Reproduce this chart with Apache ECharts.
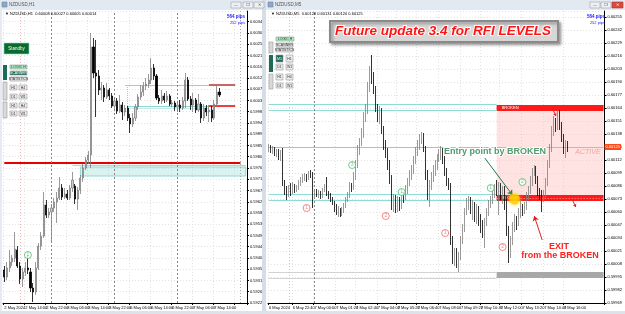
<!DOCTYPE html>
<html><head><meta charset="utf-8">
<script src="https://cdn.jsdelivr.net/npm/echarts/dist/echarts.min.js"></script>
<style>html,body{margin:0;padding:0;background:#fff}#c{width:625px;height:314px}</style>
</head><body><div id="c"></div><script>
const FONT = 'Liberation Sans, Arial, sans-serif';

// ---------- LEFT CHART (NZDUSD,H1) ----------
const leftSlotCount = 93;
const leftTimeLabels = ['2 May 2024','2 May 14:00','2 May 22:00','3 May 06:00','3 May 14:00','3 May 22:00','6 May 06:00','6 May 14:00','6 May 22:00','7 May 06:00','7 May 14:00'];
const leftDaySeparators = [18, 42, 66];
// [open, close, low, high]
const leftCandles = [
[0.59352,0.59324,0.59304,0.59368],[0.59324,0.59360,0.59312,0.59384],[0.59360,0.59384,0.59344,0.59432],[0.59384,0.59400,0.59368,0.59412],
[0.59400,0.59436,0.59384,0.59504],[0.59432,0.59368,0.59360,0.59448],[0.59368,0.59316,0.59296,0.59384],[0.59316,0.59344,0.59284,0.59360],
[0.59344,0.59360,0.59328,0.59384],[0.59360,0.59352,0.59336,0.59412],[0.59344,0.59280,0.59264,0.59360],[0.59280,0.59264,0.59224,0.59300],
[0.59264,0.59360,0.59252,0.59384],[0.59360,0.59448,0.59352,0.59460],[0.59448,0.59488,0.59432,0.59504],[0.59488,0.59612,0.59480,0.59664],
[0.59612,0.59572,0.59560,0.59632],[0.59572,0.59584,0.59560,0.59600],[0.59584,0.59600,0.59460,0.59616],[0.59600,0.59624,0.59584,0.59640],
[0.59624,0.59640,0.59540,0.59664],[0.59640,0.59680,0.59632,0.59724],[0.59680,0.59644,0.59632,0.59696],[0.59644,0.59656,0.59636,0.59680],
[0.59656,0.59640,0.59632,0.59672],[0.59640,0.59680,0.59632,0.59692],[0.59680,0.59712,0.59664,0.59744],[0.59688,0.59636,0.59616,0.59696],
[0.59636,0.59672,0.59592,0.59684],[0.59672,0.59720,0.59656,0.59732],[0.59720,0.59760,0.59704,0.59776],[0.59760,0.59792,0.59752,0.59804],
[0.59792,0.59812,0.59776,0.59828],[0.59812,0.60244,0.59760,0.60300],[0.60244,0.60140,0.60120,0.60280],[0.60140,0.60128,0.59964,0.60272],
[0.60128,0.60072,0.60052,0.60152],[0.60072,0.60080,0.60032,0.60104],[0.60080,0.60044,0.60024,0.60092],[0.60044,0.60072,0.60036,0.60100],
[0.60072,0.60048,0.60032,0.60080],[0.60048,0.60008,0.60000,0.60060],[0.60008,0.60028,0.59992,0.60036],[0.60028,0.59988,0.59976,0.60040],
[0.59988,0.60012,0.59980,0.60052],[0.60012,0.59984,0.59952,0.60024],[0.59984,0.60000,0.59968,0.60012],[0.60000,0.59960,0.59948,0.60008],
[0.59960,0.59936,0.59900,0.59976],[0.59936,0.59960,0.59924,0.59980],[0.59960,0.60004,0.59948,0.60016],[0.60004,0.60044,0.59992,0.60056],
[0.60044,0.60064,0.60032,0.60092],[0.60064,0.60088,0.60048,0.60104],[0.60088,0.60096,0.60072,0.60120],[0.60096,0.60112,0.60080,0.60136],
[0.60112,0.60160,0.60096,0.60200],[0.60160,0.60128,0.60112,0.60176],[0.60128,0.60040,0.60032,0.60136],[0.60040,0.60028,0.60016,0.60052],
[0.60028,0.60048,0.60016,0.60072],[0.60048,0.60032,0.60020,0.60060],[0.60032,0.60048,0.60024,0.60068],[0.60048,0.60016,0.60008,0.60056],
[0.60016,0.60020,0.60004,0.60032],[0.60020,0.60004,0.59988,0.60028],[0.60004,0.60012,0.59984,0.60024],[0.60012,0.60000,0.59984,0.60032],
[0.60000,0.60028,0.59992,0.60044],[0.60028,0.60112,0.60000,0.60140],[0.60112,0.60036,0.60028,0.60124],[0.60036,0.60012,0.59992,0.60048],
[0.60012,0.60032,0.59984,0.60060],[0.60032,0.59992,0.59980,0.60040],[0.59992,0.60016,0.59984,0.60056],[0.60016,0.59960,0.59940,0.60024],
[0.59960,0.60000,0.59948,0.60016],[0.60000,0.59984,0.59968,0.60012],[0.59984,0.59992,0.59944,0.60012],[0.59992,0.59960,0.59944,0.60008],
[0.59960,0.60016,0.59952,0.60032],[0.60016,0.60064,0.60008,0.60088],[0.60064,0.60052,0.60044,0.60080]
];
const leftRedLevel = 0.59780;
const leftZone = [0.59764, 0.59728];       // filled cyan zone
const leftZoneTop = 0.59772;
const leftRangeTop = 0.60092, leftRangeBottom = 0.60008, leftRangeBottom2 = 0.60000;
const leftBid = 0.60052;
const leftMarkerSlots = [9], leftMarkerPrices = [0.59412], leftMarkerNums = [1], leftMarkerKinds = ['buy'];

// ---------- RIGHT CHART (NZDUSD,M5) ----------
const rightSlotCount = 170;
const rightLabelSlots = [0,12,23,34,44,55,65,75,86,97,107,117,128,139,149];
const rightTimeLabels = ['6 May 2024','6 May 22:40','7 May 00:00','7 May 01:20','7 May 02:40','7 May 04:00','7 May 05:20','7 May 06:40','7 May 08:00','7 May 09:20','7 May 10:40','7 May 12:00','7 May 13:20','7 May 14:40','7 May 16:00'];
const rightDaySeparators = [23];
const rightCandles = [
[0.60122,0.60125,0.60120,0.60128],[0.60125,0.60122,0.60119,0.60127],[0.60122,0.60123,0.60118,0.60126],[0.60123,0.60119,0.60116,0.60125],
[0.60119,0.60121,0.60115,0.60123],[0.60121,0.60116,0.60112,0.60123],[0.60116,0.60120,0.60111,0.60122],[0.60122,0.60089,0.60086,0.60124],
[0.60089,0.60082,0.60077,0.60092],[0.60082,0.60078,0.60072,0.60086],[0.60078,0.60084,0.60075,0.60087],[0.60084,0.60080,0.60076,0.60089],
[0.60080,0.60086,0.60078,0.60090],[0.60086,0.60082,0.60079,0.60088],[0.60082,0.60084,0.60080,0.60087],[0.60084,0.60088,0.60082,0.60092],
[0.60088,0.60092,0.60086,0.60095],[0.60092,0.60094,0.60089,0.60098],[0.60094,0.60096,0.60091,0.60099],[0.60096,0.60094,0.60090,0.60098],
[0.60094,0.60098,0.60092,0.60101],[0.60098,0.60097,0.60094,0.60102],[0.60097,0.60076,0.60064,0.60100],[0.60076,0.60080,0.60074,0.60082],
[0.60080,0.60077,0.60075,0.60083],[0.60077,0.60079,0.60074,0.60082],[0.60079,0.60076,0.60073,0.60081],[0.60076,0.60082,0.60074,0.60084],
[0.60082,0.60086,0.60080,0.60088],[0.60086,0.60078,0.60076,0.60095],[0.60078,0.60077,0.60073,0.60081],[0.60077,0.60073,0.60070,0.60079],
[0.60073,0.60069,0.60067,0.60075],[0.60069,0.60064,0.60060,0.60071],[0.60064,0.60060,0.60057,0.60068],[0.60060,0.60062,0.60055,0.60066],
[0.60062,0.60058,0.60055,0.60064],[0.60058,0.60062,0.60056,0.60065],[0.60062,0.60066,0.60059,0.60069],[0.60066,0.60072,0.60064,0.60075],
[0.60072,0.60076,0.60070,0.60080],[0.60076,0.60086,0.60074,0.60090],[0.60086,0.60084,0.60080,0.60089],[0.60084,0.60094,0.60082,0.60100],
[0.60094,0.60107,0.60092,0.60112],[0.60107,0.60122,0.60104,0.60127],[0.60122,0.60130,0.60117,0.60134],[0.60130,0.60137,0.60126,0.60144],
[0.60137,0.60154,0.60134,0.60160],[0.60154,0.60162,0.60150,0.60168],[0.60162,0.60184,0.60158,0.60190],[0.60184,0.60197,0.60180,0.60206],
[0.60197,0.60192,0.60188,0.60217],[0.60192,0.60182,0.60178,0.60200],[0.60182,0.60164,0.60160,0.60186],[0.60164,0.60154,0.60150,0.60168],
[0.60154,0.60160,0.60148,0.60166],[0.60160,0.60142,0.60138,0.60164],[0.60142,0.60127,0.60122,0.60146],[0.60127,0.60120,0.60114,0.60132],
[0.60120,0.60107,0.60102,0.60124],[0.60107,0.60094,0.60088,0.60112],[0.60094,0.60067,0.60062,0.60097],[0.60067,0.60074,0.60060,0.60078],
[0.60074,0.60064,0.60059,0.60077],[0.60064,0.60072,0.60060,0.60076],[0.60072,0.60066,0.60061,0.60075],[0.60066,0.60076,0.60063,0.60080],
[0.60076,0.60074,0.60069,0.60080],[0.60074,0.60082,0.60072,0.60087],[0.60082,0.60090,0.60078,0.60094],[0.60090,0.60096,0.60086,0.60102],
[0.60096,0.60102,0.60092,0.60107],[0.60102,0.60112,0.60098,0.60116],[0.60112,0.60120,0.60108,0.60125],[0.60120,0.60126,0.60116,0.60132],
[0.60126,0.60132,0.60122,0.60138],[0.60132,0.60136,0.60128,0.60140],[0.60136,0.60122,0.60120,0.60139],[0.60122,0.60097,0.60092,0.60126],
[0.60097,0.60080,0.60072,0.60102],[0.60080,0.60087,0.60065,0.60092],[0.60087,0.60094,0.60082,0.60100],[0.60094,0.60102,0.60090,0.60107],
[0.60102,0.60106,0.60096,0.60112],[0.60106,0.60114,0.60102,0.60118],[0.60114,0.60118,0.60110,0.60123],[0.60118,0.60122,0.60112,0.60126],
[0.60122,0.60112,0.60108,0.60124],[0.60112,0.60100,0.60096,0.60116],[0.60100,0.60090,0.60086,0.60104],[0.60090,0.60086,0.60082,0.60094],
[0.60086,0.60032,0.60027,0.60089],[0.60032,0.60014,0.60008,0.60036],[0.60014,0.60020,0.60006,0.60024],[0.60020,0.60010,0.60004,0.60024],
[0.60010,0.60016,0.60000,0.60020],[0.60016,0.60032,0.60012,0.60036],[0.60032,0.60044,0.60028,0.60048],[0.60044,0.60060,0.60040,0.60064],
[0.60060,0.60068,0.60057,0.60074],[0.60068,0.60072,0.60062,0.60076],[0.60072,0.60062,0.60058,0.60075],[0.60062,0.60067,0.60052,0.60072],
[0.60067,0.60057,0.60050,0.60070],[0.60057,0.60064,0.60048,0.60068],[0.60064,0.60054,0.60046,0.60066],[0.60054,0.60047,0.60039,0.60058],
[0.60047,0.60040,0.60034,0.60052],[0.60040,0.60050,0.60024,0.60054],[0.60050,0.60060,0.60046,0.60064],[0.60060,0.60067,0.60056,0.60072],
[0.60067,0.60072,0.60064,0.60076],[0.60072,0.60078,0.60068,0.60082],[0.60078,0.60084,0.60074,0.60088],[0.60084,0.60080,0.60076,0.60092],
[0.60080,0.60086,0.60057,0.60090],[0.60086,0.60076,0.60072,0.60089],[0.60076,0.60082,0.60068,0.60086],[0.60082,0.60072,0.60062,0.60086],
[0.60072,0.60042,0.60036,0.60076],[0.60042,0.60020,0.60009,0.60046],[0.60020,0.60032,0.60014,0.60036],[0.60032,0.60044,0.60027,0.60050],
[0.60044,0.60052,0.60040,0.60058],[0.60052,0.60048,0.60042,0.60056],[0.60048,0.60058,0.60046,0.60064],[0.60058,0.60064,0.60054,0.60072],
[0.60064,0.60060,0.60056,0.60068],[0.60060,0.60066,0.60058,0.60070],[0.60066,0.60076,0.60062,0.60080],[0.60076,0.60082,0.60072,0.60086],
[0.60082,0.60090,0.60078,0.60096],[0.60090,0.60100,0.60086,0.60104],[0.60100,0.60104,0.60096,0.60107],[0.60104,0.60092,0.60088,0.60106],
[0.60092,0.60080,0.60076,0.60096],[0.60080,0.60076,0.60072,0.60084],[0.60076,0.60074,0.60060,0.60082],[0.60074,0.60078,0.60070,0.60082],
[0.60078,0.60090,0.60074,0.60094],[0.60090,0.60108,0.60086,0.60112],[0.60108,0.60124,0.60104,0.60128],[0.60124,0.60140,0.60120,0.60146],
[0.60140,0.60150,0.60136,0.60156],[0.60150,0.60144,0.60140,0.60154],[0.60144,0.60154,0.60142,0.60162],[0.60154,0.60146,0.60142,0.60162],
[0.60146,0.60134,0.60130,0.60150],[0.60134,0.60122,0.60118,0.60138],[0.60122,0.60128,0.60114,0.60132],[0.60128,0.60125,0.60120,0.60131]
];
const rightUpperCyan = [0.60168, 0.60162];
const rightLowerCyan = [0.60078, 0.60072];
const rightZoneStartSlot = 115;
const rightActiveZone = [0.60167, 0.60072];
const rightTopBand = [0.60167, 0.60161];
const rightBottomBand = [0.60077, 0.60071];
const rightGreyBand = [0.60000, 0.59994];
const rightBid = 0.60125;
const rightMarkerSlots  = [19, 42, 59, 67, 89, 112, 118, 128];
const rightMarkerPrices = [0.60064, 0.60107, 0.60056, 0.60080, 0.60039, 0.60084, 0.60025, 0.60090];
const rightMarkerNums   = [1, 3, 2, 1, 1, 1, 2, 2];
const rightMarkerKinds  = ['sell','buy','sell','buy','sell','buy','sell','buy'];
const entrySlot = 124, entryPrice = 0.60073;
const entryArrow = [[109, 0.60114], [123, 0.60077]];
const exitArrow = [[138, 0.60032], [134, 0.60056]];
const smallArrows = [[[143, 0.60164], [145, 0.60156]], [[153, 0.60073], [155, 0.60065]]];

// ---------- helpers ----------
const fmt = v => v.toFixed(5);
const GRID_LINE = {color: '#e2e2e2', type: [1, 2], width: 1};
const kindColor = k => k === 'buy' ? '#4fbf6f' : '#f06a6a';

function seg(x1, y1, x2, y2, style, label) {
  return [{coord: [x1, y1], lineStyle: style, label: label || {show: false}}, {coord: [x2, y2]}];
}
function band(x1, y1, x2, y2, style, label) {
  return [{xAxis: x1, yAxis: y1, itemStyle: style, label: label || {show: false}}, {xAxis: x2, yAxis: y2}];
}
function markerData(slots, prices, nums, kinds) {
  return slots.map((s, i) => ({
    value: [s, prices[i]],
    itemStyle: {color: '#fff', borderColor: kindColor(kinds[i]), borderWidth: 1},
    label: {show: true, position: 'inside', formatter: String(nums[i]), color: kindColor(kinds[i]), fontSize: 5, fontFamily: FONT}
  }));
}
function xAxisCfg(gi, count, isTick, labelFor) {
  return {
    gridIndex: gi, type: 'category', boundaryGap: true,
    data: Array.from({length: count}, (_, i) => String(i)),
    axisLine: {show: true, lineStyle: {color: '#000', width: 1}},
    axisTick: {show: true, length: 2, interval: (i) => isTick(i), lineStyle: {color: '#000'}},
    axisLabel: {interval: 0, fontSize: 4, color: '#000', fontFamily: FONT, align: 'left', margin: 3,
      formatter: (v, i) => labelFor(i)},
    splitLine: {show: true, interval: (i) => isTick(i), lineStyle: GRID_LINE}
  };
}
function yAxisCfg(gi, min, max, interval) {
  return {
    gridIndex: gi, type: 'value', position: 'right', min, max, interval,
    axisLine: {show: true, lineStyle: {color: '#000', width: 1}},
    axisTick: {show: true, length: 2, lineStyle: {color: '#000'}},
    axisLabel: {fontSize: 4, color: '#000', fontFamily: FONT, margin: 3, formatter: fmt, showMaxLabel: false},
    splitLine: {show: true, lineStyle: GRID_LINE}
  };
}
const candleStyle = {color: '#d0d0d0', color0: '#000000', borderColor: '#808080', borderColor0: '#000000', borderWidth: 0.8};
const priceTag = (txt, bg) => ({show: true, position: 'end', formatter: txt, distance: 1,
  backgroundColor: bg, color: '#fff', fontSize: 4, padding: [1, 1], fontFamily: FONT});

// ---------- graphic decoration ----------
function rectEl(x, y, w, h, fill, stroke, z) {
  return {type: 'rect', shape: {x, y, width: w, height: h}, style: {fill, stroke: stroke || null, lineWidth: stroke ? 0.6 : 0}, z: z || 100, silent: true};
}
function textEl(x, y, text, size, fill, extra) {
  return {type: 'text', x, y, z: 101, silent: true,
    style: Object.assign({text, fontSize: size, fill, fontFamily: FONT, align: 'left', verticalAlign: 'middle'}, extra || {})};
}
function btn(x, y, w, h, t, fill, color, stroke) {
  return [rectEl(x, y, w, h, fill, stroke || '#9a9a9a'), textEl(x + w / 2, y + h / 2 + 0.3, t, 3.5, color, {align: 'center'})];
}
const G = [];
G.push(rectEl(0, 0, 625, 10, '#e3e9f0', null, 90));
G.push(rectEl(262, 0, 4, 314, '#d6dde6', null, 90));
G.push(rectEl(0, 311, 625, 3, '#dde3ea', null, 90));
G.push(rectEl(0, 10, 2, 301, '#e6ebf1', null, 90));
G.push(rectEl(2, 2, 5, 5, '#8fa8c8', '#6a86aa'));
G.push(textEl(9, 5, 'NZDUSD,H1', 4.5, '#555'));
G.push(rectEl(268, 2, 5, 5, '#8fa8c8', '#6a86aa'));
G.push(textEl(275, 5, 'NZDUSD,M5', 4.5, '#555'));
[[231, 2], [243, 2], [254, 2], [590, 2], [601, 2]].forEach(p => G.push(rectEl(p[0], p[1], 10, 6, '#eef1f4', '#9aa3ad')));
G.push(rectEl(612, 2, 11, 6, '#d84a3e', '#a33'));
G.push(textEl(236, 5, '—', 4, '#444', {align: 'center'}), textEl(248, 5, '❐', 4, '#444', {align: 'center'}), textEl(259, 5, '✕', 4, '#444', {align: 'center'}));
G.push(textEl(595, 5, '—', 4, '#444', {align: 'center'}), textEl(606, 5, '❐', 4, '#444', {align: 'center'}), textEl(617.5, 5, '✕', 4, '#fff', {align: 'center'}));
G.push(textEl(5, 13.5, '▼ NZDUSD,H1  0.60008 0.60027 0.60005 0.60014', 4, '#000'));
G.push(textEl(271, 13.5, '▼ NZDUSD,M5  0.60128 0.60131 0.60120 0.60125', 4, '#000'));
G.push(textEl(245, 17, '564 pips', 4.5, '#1a1aff', {align: 'right', fontWeight: 'bold'}));
G.push(textEl(245, 23, '252 pips', 4, '#1a1aff', {align: 'right'}));
G.push(textEl(605, 17, '564 pips', 4.5, '#1a1aff', {align: 'right', fontWeight: 'bold'}));
G.push(textEl(605, 23, '252 pips', 4, '#1a1aff', {align: 'right'}));
G.push(rectEl(4, 43, 25, 11, '#0b6b2c', '#86dccc'));
G.push(textEl(16.5, 48.5, 'Standby', 4.5, '#fff', {align: 'center'}));
G.push(rectEl(3, 65, 4, 15, '#1d6b57'), rectEl(3, 82, 4, 18, '#d9d9d9', '#9a9a9a'), rectEl(3, 102, 4, 16, '#d9d9d9', '#9a9a9a'));
G.push(...btn(10, 65, 17, 4, 'LOGIC H', '#a9e8bd', '#1d5a3a'));
G.push(...btn(10, 71, 17, 4, 'SCANNER', '#1d6b57', '#fff'));
G.push(...btn(10, 77, 17, 4, 'STATISTICS', '#e6e6e6', '#333'));
[[85, 'H1', 'H4'], [94, 'D1', 'W1'], [103, 'H1', 'H4'], [111, 'D1', 'W1']].forEach(r => {
  G.push(...btn(10, r[0], 7, 5, r[1], '#ececec', '#333'), ...btn(19, r[0], 8, 5, r[2], '#ececec', '#333'));
});
G.push(rectEl(269, 42, 4, 11, '#d9d9d9', '#9a9a9a'), rectEl(269, 55, 4, 17, '#1d6b57'), rectEl(269, 74, 4, 15, '#d9d9d9', '#9a9a9a'));
G.push(...btn(276, 37, 18, 4, 'LOGIC H', '#a9e8bd', '#1d5a3a'));
G.push(...btn(276, 43, 17, 4, 'SCANNER', '#e6e6e6', '#333'));
G.push(...btn(276, 48, 17, 4, 'STATISTICS', '#e6e6e6', '#333'));
G.push(...btn(276, 55, 7, 7, 'M1', '#1d6b57', '#fff'), ...btn(286, 55, 7, 7, 'H1', '#ececec', '#333'));
G.push(...btn(276, 64, 7, 6, 'D1', '#ececec', '#333'), ...btn(286, 64, 7, 6, 'W1', '#ececec', '#333'));
G.push(...btn(276, 74, 7, 6, 'H1', '#ececec', '#333'), ...btn(286, 74, 7, 6, 'H4', '#ececec', '#333'));
G.push(...btn(276, 83, 7, 5, 'D1', '#ececec', '#333'), ...btn(286, 83, 7, 5, 'W1', '#ececec', '#333'));
G.push({type: 'rect', shape: {x: 330, y: 21, width: 228, height: 21}, z: 100, silent: true,
  style: {fill: '#d7d7d7', stroke: '#8a8a8a', lineWidth: 2, shadowBlur: 3, shadowColor: 'rgba(0,0,0,0.35)', shadowOffsetX: 2, shadowOffsetY: 2}});
G.push(textEl(443, 31.5, 'Future update 3.4 for RFI LEVELS', 13.5, '#ff1414',
  {align: 'center', fontStyle: 'italic', fontWeight: 'bold', stroke: '#ffffff', lineWidth: 2}));
G.push(textEl(495, 151.5, 'Entry point by BROKEN', 9, '#4e9c6c',
  {align: 'center', fontWeight: 'bold', stroke: '#ffffff', lineWidth: 2, shadowBlur: 2, shadowColor: 'rgba(0,0,0,0.4)', shadowOffsetX: 1, shadowOffsetY: 1}));
G.push(textEl(559, 247, 'EXIT', 9, '#ff2020', {align: 'center', fontWeight: 'bold', stroke: '#ffffff', lineWidth: 2}));
G.push(textEl(560, 256, 'from the BROKEN', 9, '#ff2020', {align: 'center', fontWeight: 'bold', stroke: '#ffffff', lineWidth: 2}));
G.push(textEl(588, 152.5, 'ACTIVE', 7, '#f3a3a3', {align: 'center', fontStyle: 'italic'}));

// ---------- option ----------
const chart = echarts.init(document.getElementById('c'), null, {renderer: 'canvas', devicePixelRatio: 1});
const option = {
  backgroundColor: '#ffffff',
  animation: false,
  grid: [
    {left: 3, top: 11, width: 244, height: 292},
    {left: 268, top: 11, width: 339, height: 292}
  ],
  xAxis: [
    xAxisCfg(0, leftSlotCount, i => i % 8 === 0, i => (i % 8 === 0 && leftTimeLabels[i / 8]) || ''),
    xAxisCfg(1, rightSlotCount, i => rightLabelSlots.indexOf(i) >= 0, i => { const k = rightLabelSlots.indexOf(i); return k >= 0 ? rightTimeLabels[k] : ''; })
  ],
  yAxis: [
    yAxisCfg(0, 0.59220, 0.60388, 0.00045),
    yAxisCfg(1, 0.59969, 0.60261, 0.00013)
  ],
  graphic: G,
  series: [
    {
      type: 'candlestick', xAxisIndex: 0, yAxisIndex: 0, data: leftCandles,
      barWidth: 1.6, itemStyle: candleStyle, z: 3,
      markArea: {silent: true, z: 1, data: [
        band(29, leftZone[0], 92, leftZone[1], {color: 'rgba(150,220,214,0.35)', borderColor: '#8fd8d0', borderWidth: 1})
      ]},
      markLine: {silent: true, symbol: ['none', 'none'], label: {show: false}, z: 2, data: [
        seg(0, leftRedLevel, 90, leftRedLevel, {color: '#e60000', width: 2, type: 'solid'}),
        seg(26, leftZoneTop, 92, leftZoneTop, {color: '#9fdcd6', width: 1, type: 'solid'}),
        seg(46, leftRangeTop, 78, leftRangeTop, {color: '#8fd6d0', width: 1.2, type: 'solid'}),
        seg(47, leftRangeBottom, 78, leftRangeBottom, {color: '#8fd6d0', width: 1.2, type: 'solid'}),
        seg(47, leftRangeBottom2, 78, leftRangeBottom2, {color: '#c3ebe7', width: 1, type: 'solid'}),
        seg(47, leftRangeTop, 47, leftRangeBottom, {color: '#8fd6d0', width: 1, type: 'dotted'}),
        seg(78, leftRangeTop, 88, leftRangeTop, {color: '#b83232', width: 1.5, type: 'solid'}),
        seg(78, leftRangeBottom, 88, leftRangeBottom, {color: '#e60000', width: 1.5, type: 'solid'}),
        ...leftDaySeparators.map(s => ({xAxis: s, lineStyle: {color: '#888', width: 1, type: [2, 2]}})),
        {xAxis: 6, lineStyle: {color: '#f3b3b3', width: 1, type: [1, 2]}},
        {xAxis: 90, lineStyle: {color: '#aaa', width: 1, type: [1, 2]}},
        seg(0, leftBid, 92, leftBid, {opacity: 0}, priceTag(fmt(leftBid), '#000'))
      ]}
    },
    {
      type: 'scatter', xAxisIndex: 0, yAxisIndex: 0, symbol: 'circle', symbolSize: 7, z: 6,
      data: markerData(leftMarkerSlots, leftMarkerPrices, leftMarkerNums, leftMarkerKinds)
    },
    {
      type: 'candlestick', xAxisIndex: 1, yAxisIndex: 1, data: rightCandles,
      barWidth: 1.2, itemStyle: candleStyle, z: 3,
      markArea: {silent: true, z: 1, data: [
        band(rightZoneStartSlot, rightActiveZone[0], 169, rightActiveZone[1], {color: 'rgba(255,190,190,0.45)'}),
        band(rightZoneStartSlot, rightTopBand[0], 169, rightTopBand[1], {color: '#ff1a1a'},
          {show: true, position: 'insideLeft', formatter: 'BROKEN', color: '#fff', fontSize: 4, fontFamily: FONT}),
        band(rightZoneStartSlot, rightBottomBand[0], 169, rightBottomBand[1], {color: '#ff1a1a'},
          {show: true, position: 'insideLeft', formatter: 'BROKEN', color: '#fff', fontSize: 4, fontFamily: FONT}),
        band(rightZoneStartSlot, rightGreyBand[0], 169, rightGreyBand[1], {color: '#a8a8a8'})
      ]},
      markLine: {silent: true, symbol: ['none', 'none'], label: {show: false}, z: 2, data: [
        ...rightUpperCyan.map(p => seg(0, p, rightZoneStartSlot, p, {color: '#8fdcd6', width: 1, type: 'solid'})),
        ...rightLowerCyan.map(p => seg(0, p, rightZoneStartSlot, p, {color: '#8fdcd6', width: 1, type: 'solid'})),
        ...rightGreyBand.map(p => seg(0, p, rightZoneStartSlot, p, {color: '#d2d2d2', width: 1, type: 'solid'})),
        seg(rightZoneStartSlot, (rightBottomBand[0] + rightBottomBand[1]) / 2, 169, (rightBottomBand[0] + rightBottomBand[1]) / 2, {color: '#ff9c9c', width: 1, type: [1, 2]}),
        ...rightDaySeparators.map(s => ({xAxis: s, lineStyle: {color: '#888', width: 1, type: [2, 2]}})),
        {xAxis: 10, lineStyle: {color: '#f3b3b3', width: 1, type: [1, 2]}},
        seg(0, rightBid, 169, rightBid, {color: '#f4a58c', width: 1, type: 'solid'}, priceTag(fmt(rightBid), '#ff4a1a')),
        [{coord: entryArrow[0], symbol: 'none', lineStyle: {color: '#1e7a4a', width: 1, type: 'solid'}}, {coord: entryArrow[1], symbol: 'arrow', symbolSize: 5}],
        [{coord: exitArrow[0], symbol: 'none', lineStyle: {color: '#e02020', width: 1, type: 'solid'}}, {coord: exitArrow[1], symbol: 'arrow', symbolSize: 5}],
        ...smallArrows.map(a => [{coord: a[0], symbol: 'none', lineStyle: {color: '#e02020', width: 1, type: 'solid'}}, {coord: a[1], symbol: 'arrow', symbolSize: 3}])
      ]}
    },
    {
      type: 'scatter', xAxisIndex: 1, yAxisIndex: 1, symbol: 'circle', symbolSize: 7, z: 6,
      data: markerData(rightMarkerSlots, rightMarkerPrices, rightMarkerNums, rightMarkerKinds)
    },
    {
      type: 'scatter', xAxisIndex: 1, yAxisIndex: 1, symbol: 'circle', symbolSize: 11, z: 7,
      itemStyle: {color: 'rgba(255,208,0,0.92)', shadowBlur: 4, shadowColor: '#ffcc00'},
      data: [[entrySlot, entryPrice]]
    }
  ]
};
chart.setOption(option);
</script></body></html>
